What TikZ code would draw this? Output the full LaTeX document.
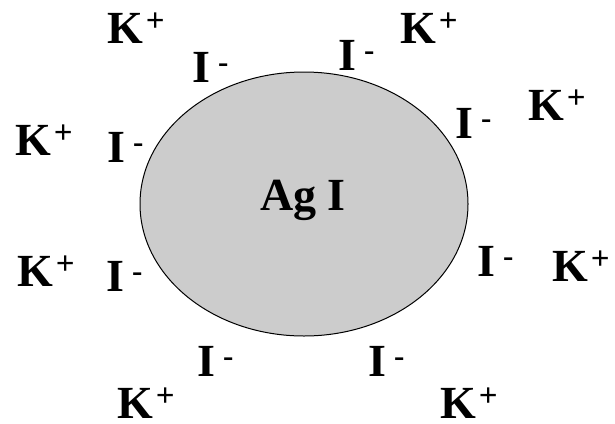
\documentclass[tikz,border=0pt]{standalone}
\usepackage{fontspec}
\setmainfont{Liberation Serif}
\newcommand\ionplus{\hspace{3pt}\raisebox{12pt}{\fontsize{33}{33}\selectfont +}}
\newcommand\ionminus{\hspace{8pt}\raisebox{10pt}{\fontsize{31}{31}\selectfont -}}
\definecolor{particle}{HTML}{CCCCCC}
\tikzset{
  ion/.style={anchor=base west, inner sep=0pt, font=\fontsize{46}{46}\selectfont\bfseries},
  core/.style={draw=black, line width=1pt, fill=particle}
}
\begin{document}
\begin{tikzpicture}[x=1pt,y=-1pt]
\useasboundingbox (0,0) rectangle (615,423);
\fill[white] (0,0) rectangle (615,423);
\draw[core] (304,204) ellipse [x radius=164, y radius=132];
\node[ion] (agi) at (260,210) {Ag I};
% K+ cations
\node[ion] (k1) at (107,43) {K\ionplus};
\node[ion] (k2) at (15,155) {K\ionplus};
\node[ion] (k3) at (400,43) {K\ionplus};
\node[ion] (k4) at (528,120) {K\ionplus};
\node[ion] (k5) at (17,286) {K\ionplus};
\node[ion] (k6) at (117,418) {K\ionplus};
\node[ion] (k7) at (552,281) {K\ionplus};
\node[ion] (k8) at (440,418) {K\ionplus};
% I- anions
\node[ion] (i1) at (192,82) {I\ionminus};
\node[ion] (i2) at (107,162) {I\ionminus};
\node[ion] (i3) at (338,70) {I\ionminus};
\node[ion] (i4) at (455,138) {I\ionminus};
\node[ion] (i5) at (106,291) {I\ionminus};
\node[ion] (i6) at (197,376) {I\ionminus};
\node[ion] (i7) at (477,276) {I\ionminus};
\node[ion] (i8) at (368,376) {I\ionminus};
\end{tikzpicture}
\end{document}
